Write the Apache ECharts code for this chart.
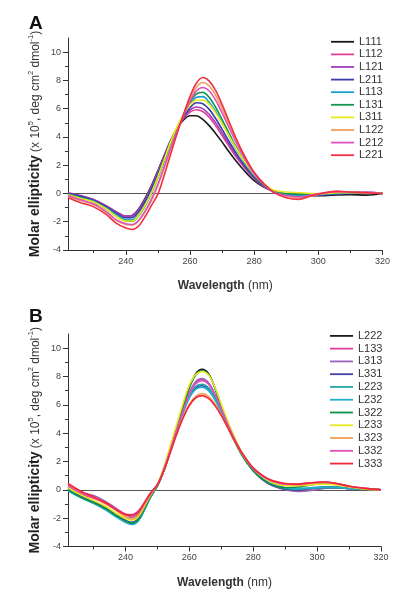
<!DOCTYPE html>
<html><head><meta charset="utf-8">
<script src="https://cdn.jsdelivr.net/npm/echarts@6/dist/echarts.min.js"></script>
<style>html,body{margin:0;padding:0;background:#fff}#c{width:402px;height:600px}</style>
</head><body><div id="c"></div>
<script>
// Shared wavelength grid (nm)
const wavelengths = [222,226,230,234,237,240,242,244,246,248,250,252,254,256,258,260,262,264,266,268,270,272,274,276,278,280,283,286,290,294,298,302,306,310,315,320];
const xTicksMajor = [240,260,280,300,320];
const xTicksMinor = [230,250,270,290,310];
const yTicksMajor = [-4,-2,0,2,4,6,8,10];
const yTicksMinor = [-3,-1,1,3,5,7,9];

// Panel A
const namesA = ['L111','L112','L121','L211','L113','L131','L311','L122','L212','L221'];
const colorsA = ['#1a1a1a','#e0409a','#a040b8','#3c3ca8','#1aa0c8','#149650','#e8e81a','#f0a060','#e050c0','#f03040'];
const L111 = [0.0,-0.2,-0.45,-0.9,-1.3,-1.62,-1.55,-1.1,-0.35,0.55,1.6,2.7,3.75,4.6,5.2,5.5,5.5,5.25,4.8,4.25,3.65,3.0,2.4,1.85,1.35,0.9,0.45,0.15,-0.05,-0.12,-0.15,-0.15,-0.1,-0.08,-0.12,0.0];
const L112 = [0.0,-0.2,-0.45,-0.9,-1.3,-1.62,-1.58,-1.15,-0.45,0.45,1.5,2.6,3.7,4.6,5.3,5.75,5.92,5.8,5.4,4.8,4.1,3.4,2.7,2.1,1.55,1.05,0.5,0.15,-0.05,-0.1,-0.1,-0.05,0.05,0.05,0.05,0.0];
const L121 = [0.05,-0.15,-0.45,-0.9,-1.3,-1.6,-1.58,-1.15,-0.45,0.45,1.5,2.6,3.7,4.6,5.35,5.9,6.12,6.0,5.6,5.0,4.3,3.55,2.85,2.2,1.6,1.1,0.5,0.15,-0.05,-0.12,-0.1,-0.05,0.0,0.05,0.1,0.0];
const L211 = [0.0,-0.2,-0.5,-0.95,-1.4,-1.72,-1.7,-1.3,-0.6,0.3,1.35,2.5,3.65,4.6,5.4,6.05,6.42,6.35,5.95,5.3,4.55,3.75,3.0,2.3,1.7,1.15,0.55,0.15,-0.08,-0.15,-0.15,-0.1,-0.05,0.0,0.05,0.0];
const L113 = [-0.05,-0.3,-0.55,-1.05,-1.5,-1.85,-1.85,-1.5,-0.8,0.1,1.2,2.4,3.6,4.6,5.5,6.3,6.8,6.85,6.45,5.8,5.0,4.15,3.3,2.55,1.85,1.25,0.6,0.15,-0.1,-0.15,-0.1,-0.05,0.0,0.05,0.05,0.0];
const L131 = [-0.05,-0.3,-0.6,-1.1,-1.6,-1.95,-1.97,-1.6,-0.9,0.0,1.1,2.3,3.55,4.6,5.55,6.45,7.05,7.15,6.8,6.1,5.25,4.35,3.45,2.65,1.95,1.3,0.6,0.15,0.0,-0.05,-0.05,0.0,0.05,0.1,0.05,0.0];
const L311 = [-0.1,-0.35,-0.6,-1.1,-1.6,-1.95,-1.95,-1.55,-0.85,0.05,1.15,2.4,3.65,4.75,5.6,6.25,6.6,6.6,6.3,5.7,4.95,4.15,3.35,2.6,1.95,1.35,0.7,0.25,0.1,0.05,0.0,0.0,0.05,0.05,0.05,0.0];
const L122 = [-0.2,-0.5,-0.8,-1.35,-1.9,-2.2,-2.25,-1.95,-1.3,-0.5,0.55,1.8,3.15,4.4,5.55,6.65,7.5,7.85,7.6,6.95,6.0,4.95,3.95,3.0,2.2,1.45,0.65,0.1,-0.2,-0.3,-0.15,0.0,0.1,0.1,0.05,0.0];
const L212 = [-0.15,-0.45,-0.75,-1.3,-1.85,-2.15,-2.2,-1.9,-1.25,-0.4,0.65,1.9,3.2,4.4,5.5,6.5,7.25,7.5,7.25,6.6,5.7,4.75,3.8,2.9,2.1,1.4,0.65,0.1,-0.15,-0.25,-0.1,0.05,0.15,0.1,0.05,0.0];
const L221 = [-0.3,-0.65,-0.95,-1.5,-2.1,-2.45,-2.55,-2.3,-1.65,-0.85,-0.05,1.3,2.8,4.25,5.6,6.85,7.8,8.2,7.95,7.3,6.3,5.2,4.1,3.1,2.25,1.5,0.7,0.1,-0.3,-0.42,-0.15,0.05,0.15,0.1,0.05,0.0];
const valuesA = [L111,L112,L121,L211,L113,L131,L311,L122,L212,L221];

// Panel B
const namesB = ['L222','L133','L313','L331','L223','L232','L322','L233','L323','L332','L333'];
const colorsB = ['#1a1a1a','#e0409a','#a060b8','#4040a8','#20a8a8','#20b0d0','#109048','#e8e820','#f0a050','#e050b8','#f02838'];
const L222 = [0.1,-0.4,-0.85,-1.3,-1.75,-2.2,-2.4,-2.15,-1.35,-0.45,0.3,1.35,2.75,4.25,5.8,7.25,8.2,8.5,8.2,7.2,5.9,4.7,3.65,2.75,2.05,1.45,0.85,0.45,0.15,0.05,0.1,0.2,0.2,0.1,0.05,0.0];
const L133 = [0.2,-0.3,-0.6,-1.0,-1.4,-1.75,-1.85,-1.6,-0.95,-0.2,0.35,1.4,2.75,4.15,5.55,6.8,7.6,7.8,7.5,6.7,5.65,4.55,3.55,2.7,2.0,1.4,0.8,0.4,0.1,-0.05,0.05,0.15,0.15,0.1,0.05,0.0];
const L313 = [0.2,-0.2,-0.4,-0.85,-1.3,-1.75,-1.95,-1.75,-1.05,-0.3,0.3,1.35,2.75,4.15,5.55,6.85,7.65,7.85,7.55,6.75,5.7,4.6,3.6,2.7,1.95,1.35,0.7,0.3,0.0,-0.12,-0.05,0.1,0.15,0.1,0.05,0.0];
const L331 = [0.05,-0.45,-0.85,-1.3,-1.75,-2.15,-2.3,-2.05,-1.3,-0.4,0.3,1.35,2.7,4.1,5.45,6.55,7.2,7.35,7.1,6.45,5.55,4.5,3.5,2.65,1.95,1.35,0.7,0.3,0.05,0.0,0.1,0.15,0.15,0.1,0.05,0.0];
const L223 = [-0.05,-0.55,-0.95,-1.4,-1.85,-2.25,-2.45,-2.2,-1.4,-0.45,0.3,1.35,2.7,4.1,5.5,6.65,7.3,7.45,7.2,6.5,5.55,4.5,3.5,2.65,1.95,1.35,0.75,0.35,0.1,0.05,0.1,0.15,0.15,0.1,0.05,0.0];
const L232 = [-0.05,-0.55,-0.95,-1.45,-1.9,-2.3,-2.45,-2.15,-1.35,-0.45,0.3,1.35,2.7,4.1,5.45,6.5,7.1,7.25,7.0,6.35,5.45,4.45,3.5,2.65,1.95,1.4,0.8,0.4,0.15,0.1,0.15,0.2,0.2,0.1,0.05,0.0];
const L322 = [0.0,-0.5,-0.9,-1.35,-1.8,-2.2,-2.35,-2.1,-1.3,-0.4,0.3,1.4,2.8,4.3,5.8,7.2,8.1,8.4,8.15,7.2,5.9,4.65,3.55,2.65,1.95,1.35,0.75,0.35,0.15,0.2,0.35,0.45,0.4,0.2,0.05,0.0];
const L233 = [0.15,-0.35,-0.75,-1.2,-1.65,-2.0,-2.15,-1.9,-1.15,-0.3,0.4,1.6,3.1,4.6,6.1,7.4,8.15,8.35,8.1,7.25,6.05,4.85,3.8,2.85,2.1,1.5,0.9,0.5,0.3,0.3,0.35,0.4,0.35,0.2,0.05,0.0];
const L323 = [0.4,-0.15,-0.55,-1.0,-1.45,-1.9,-2.05,-1.8,-1.1,-0.3,0.35,1.4,2.7,3.95,5.1,6.05,6.6,6.8,6.6,6.05,5.3,4.4,3.5,2.7,2.05,1.5,0.95,0.6,0.4,0.35,0.45,0.5,0.45,0.25,0.1,0.0];
const L332 = [0.3,-0.2,-0.55,-0.95,-1.35,-1.7,-1.75,-1.5,-0.85,-0.15,0.4,1.45,2.8,4.2,5.55,6.75,7.5,7.7,7.45,6.7,5.7,4.65,3.65,2.8,2.1,1.5,0.95,0.6,0.4,0.4,0.5,0.55,0.45,0.25,0.1,0.0];
const L333 = [0.45,-0.1,-0.5,-0.95,-1.4,-1.75,-1.8,-1.55,-0.9,-0.2,0.35,1.35,2.6,3.9,5.05,5.95,6.5,6.65,6.45,5.95,5.25,4.4,3.55,2.75,2.1,1.55,1.0,0.65,0.45,0.4,0.5,0.55,0.45,0.25,0.1,0.0];
const valuesB = [L222,L133,L313,L331,L223,L232,L322,L233,L323,L332,L333];

const FONT = "'Liberation Sans', Arial, sans-serif";
const grids = [
  {left: 68, top: 38, width: 314.5, height: 212},
  {left: 68, top: 334, width: 313, height: 212.5}
];
function mainX(gi){
  return {type:'value', gridIndex: gi, min: 222, max: 320,
    axisLine:{show:true, onZero:false, lineStyle:{color:'#333', width:1}},
    axisTick:{show:true, length:5, customValues: xTicksMajor, lineStyle:{color:'#333'}},
    axisLabel:{customValues: xTicksMajor, fontSize: 9, color:'#444', margin: 7, fontFamily: FONT},
    splitLine:{show:false},
    name:'{b|Wavelength} {n|(nm)}', nameLocation:'middle', nameGap: 30, nameMoveOverlap: false,
    nameTextStyle:{rich:{b:{fontWeight:'bold', fontSize:12, color:'#333', fontFamily:FONT}, n:{fontSize:12, color:'#333', fontFamily:FONT}}}
  };
}
function minorX(gi){
  return {type:'value', gridIndex: gi, min:222, max:320, position:'bottom',
    axisLine:{show:false, onZero:false}, axisLabel:{show:false}, splitLine:{show:false},
    axisTick:{show:true, length:3, customValues: xTicksMinor, lineStyle:{color:'#333'}}};
}
const yName = '{b|Molar ellipticity} {n|(x 10}{s|5}{n|, deg cm}{s|2}{n| dmol}{s|-1}{n|)}';
function mainY(gi){
  return {type:'value', gridIndex: gi, min:-4, max:11,
    axisLine:{show:true, onZero:false, lineStyle:{color:'#333', width:1}},
    axisTick:{show:true, length:5, customValues: yTicksMajor, lineStyle:{color:'#333'}},
    axisLabel:{customValues: yTicksMajor, fontSize:9, color:'#444', margin:7, fontFamily:FONT},
    splitLine:{show:false},
    name: yName, nameLocation:'middle', nameRotate: 90, nameGap: 24, nameMoveOverlap: false,
    nameTextStyle:{rich:{
      b:{fontWeight:'bold', fontSize:14, color:'#222', fontFamily:FONT, lineHeight:17},
      n:{fontSize:12, color:'#333', fontFamily:FONT, lineHeight:17},
      s:{fontSize:7.5, color:'#333', fontFamily:FONT, verticalAlign:'top', lineHeight:17, padding:[0,0,7,0]}
    }}
  };
}
function minorY(gi){
  return {type:'value', gridIndex: gi, min:-4, max:11, position:'left',
    axisLine:{show:false, onZero:false}, axisLabel:{show:false}, splitLine:{show:false},
    axisTick:{show:true, length:3, customValues: yTicksMinor, lineStyle:{color:'#333'}}};
}

function buildSeries(names, colors, values, xi, yi){
  return names.map((n,k)=>{
    const s = {name:n, type:'line', xAxisIndex: xi, yAxisIndex: yi, symbol:'none', smooth:0.35,
      lineStyle:{color: colors[k], width:1.6}, itemStyle:{color: colors[k]},
      data: wavelengths.map((w,i)=>[w, values[k][i]]), z: 3 + k};
    if (k === 0) {
      s.markLine = {silent:true, symbol:'none', label:{show:false}, animation:false,
        lineStyle:{color:'#555', width:1, type:'solid'}, data:[{yAxis:0}]};
    }
    return s;
  });
}

const chart = echarts.init(document.getElementById('c'), null, {renderer:'canvas'});
chart.setOption({
  animation:false,
  backgroundColor:'#fff',
  grid: grids,
  xAxis: [mainX(0), mainX(1), minorX(0), minorX(1)],
  yAxis: [mainY(0), mainY(1), minorY(0), minorY(1)],
  legend: [
    {data: namesA, orient:'vertical', left: 331, top: 35.5, padding:0, icon:'rect', itemWidth:23, itemHeight:1.8, itemGap:0,
     textStyle:{fontSize:11, color:'#333', fontFamily:FONT, lineHeight:12.6}},
    {data: namesB, orient:'vertical', left: 330, top: 329.5, padding:0, icon:'rect', itemWidth:23, itemHeight:1.8, itemGap:0,
     textStyle:{fontSize:11, color:'#333', fontFamily:FONT, lineHeight:12.77}}
  ],
  graphic: [
    {type:'text', left: 29, top: 14, style:{text:'A', font:"bold 19px 'Liberation Sans', Arial, sans-serif", fill:'#111'}},
    {type:'text', left: 29, top: 307, style:{text:'B', font:"bold 19px 'Liberation Sans', Arial, sans-serif", fill:'#111'}}
  ],
  series: [].concat(buildSeries(namesA, colorsA, valuesA, 0, 0), buildSeries(namesB, colorsB, valuesB, 1, 1))
});
</script></body></html>
